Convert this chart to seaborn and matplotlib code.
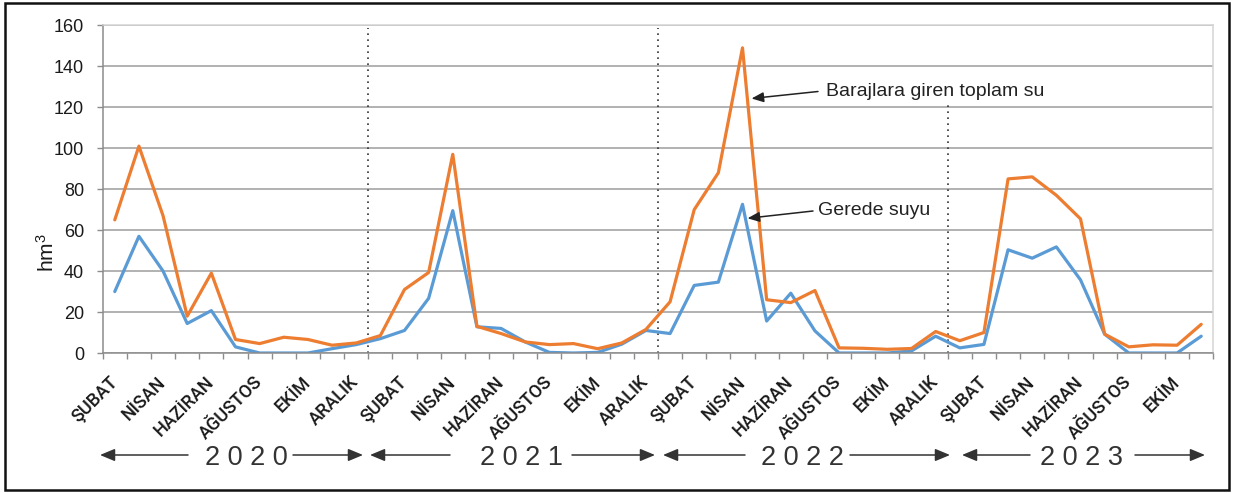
import numpy as np
import pandas as pd
import matplotlib
matplotlib.use("Agg")
import matplotlib.pyplot as plt
import matplotlib.transforms as mtransforms
from matplotlib.patches import Rectangle
import seaborn as sns

# ---------------- data ----------------
month_names = ["OCAK", "ŞUBAT", "MART", "NİSAN", "MAYIS", "HAZİRAN", "TEMMUZ",
               "AĞUSTOS", "EYLÜL", "EKİM", "KASIM", "ARALIK"]
# Feb 2020 ... Nov 2023
categories = month_names[1:] + month_names + month_names + month_names[:11]
years = ["2 0 2 0", "2 0 2 1", "2 0 2 2", "2 0 2 3"]

series_names = ["Gerede suyu", "Barajlara giren toplam su"]

gerede = [30, 57, 40, 14.4, 20.7, 3, 0, 0, 0, 2.1, 4.1,
          7, 11, 26.7, 69.5, 12.8, 12, 5.4, 0.3, 0, 0.3, 4.3, 11,
          9.5, 33, 34.6, 72.6, 15.6, 29.2, 10.8, 0, 0, 0, 1, 8.2,
          2.5, 4.2, 50.4, 46.3, 51.8, 35.7, 9.2, 0, 0, 0, 8.2]

toplam = [65, 101, 67, 18, 39, 6.6, 4.6, 7.7, 6.6, 3.8, 4.9,
          8.5, 31, 39.3, 97, 13, 9.5, 5.4, 4.1, 4.6, 2.1, 4.9, 11.5,
          25, 70, 88, 149, 26, 24.6, 30.5, 2.5, 2.3, 1.8, 2.2, 10.5,
          6, 10, 85, 86, 77, 65.5, 9.2, 3, 4, 3.8, 14]

colors = {"Gerede suyu": "#5B9BD5", "Barajlara giren toplam su": "#ED7D31"}

n = len(categories)
idx = np.arange(1, n + 1)
df = pd.DataFrame({
    "idx": np.concatenate([idx, idx]),
    "value": gerede + toplam,
    "series": [series_names[0]] * n + [series_names[1]] * n,
})

# ---------------- style ----------------
sns.set_theme(style="white")
plt.rcParams["font.family"] = ["Liberation Sans", "DejaVu Sans"]
plt.rcParams["mathtext.default"] = "regular"

W, H = 1233, 493
fig = plt.figure(figsize=(W / 100, H / 100), dpi=100)
fig.patch.set_facecolor("white")

left, right, top, bottom = 102.7, 1213.3, 25.3, 353.0
ax = fig.add_axes([left / W, 1 - bottom / H, (right - left) / W, (bottom - top) / H])

sns.lineplot(data=df, x="idx", y="value", hue="series", hue_order=series_names,
             palette=colors, linewidth=2.3, legend=False, sort=False, ax=ax)
for ln in ax.get_lines():
    ln.set_solid_joinstyle("round")
    ln.set_solid_capstyle("round")

ax.set_xlim(0.5, n + 0.5)
ax.set_ylim(0, 160)
ax.set_xlabel("")
ax.set_ylabel("")

# y axis
ax.set_yticks(range(0, 161, 20))
ax.yaxis.grid(True, color="#9c9c9c", linewidth=1.1)
ax.xaxis.grid(False)
ax.set_axisbelow(True)
ax.tick_params(axis="y", which="major", left=True, length=4.5, width=1,
               color="#8c8c8c", pad=9, labelsize=13, labelcolor="#1a1a1a")

# x axis
ax.set_xticks(idx[::2])
ax.set_xticklabels(categories[::2])
ax.set_xticks(np.arange(0.5, n + 1, 1), minor=True)
ax.tick_params(axis="x", which="major", bottom=True, length=0, pad=19)
ax.tick_params(axis="x", which="minor", bottom=True, length=4, width=1,
               color="#8c8c8c", direction="out")
for lab in ax.get_xticklabels():
    lab.set_fontfamily(["Roboto", "DejaVu Sans"])
    lab.set_fontsize(13)
    lab.set_fontweight("medium")
    lab.set_color("#1a1a1a")
    lab.set_rotation(45)
    lab.set_ha("right")
    lab.set_va("center")
    lab.set_rotation_mode("anchor")

for side in ["left", "bottom"]:
    ax.spines[side].set_color("#8c8c8c")
    ax.spines[side].set_linewidth(1.1)
for side in ["top", "right"]:
    ax.spines[side].set_color("#d4d4d4")
    ax.spines[side].set_linewidth(1.1)

# year separators (dotted)
for b, ytop in [(11.5, 158.5), (23.5, 158.5), (35.5, 122)]:
    ax.vlines(b, 0, ytop, colors="#333333", linewidth=1.2,
              linestyles=(0, (1, 2.6)), zorder=1)

# y label
fig.text(47 / W, 1 - 253 / H, r"hm$^{3}$", rotation=90, ha="center", va="center",
         fontsize=15, color="#1a1a1a")

# annotations
def fpx(x, y):
    return (x, H - y)

ann_style = "-|>,head_length=0.6,head_width=0.25"
ax.annotate("", xy=fpx(751.5, 98.5), xycoords="figure pixels",
            xytext=fpx(818, 91.5), textcoords="figure pixels",
            arrowprops=dict(arrowstyle=ann_style, color="#222222", lw=1.1,
                            mutation_scale=12, shrinkA=0, shrinkB=0))
ax.annotate("", xy=fpx(747.5, 218.3), xycoords="figure pixels",
            xytext=fpx(813, 211), textcoords="figure pixels",
            arrowprops=dict(arrowstyle=ann_style, color="#222222", lw=1.1,
                            mutation_scale=12, shrinkA=0, shrinkB=0))
fig.text(826.5 / W, 1 - 96 / H, series_names[1], ha="left", va="baseline",
         fontsize=14, color="#222222")
fig.text(818 / W, 1 - 215 / H, series_names[0], ha="left", va="baseline",
         fontsize=14, color="#222222")

# year row with arrows
year_centers = [246, 522, 802, 1082]
year_arrows = [((100, 188), (293, 363)),
               ((370, 450), (572, 655)),
               ((663, 745), (850, 950)),
               ((962, 1030), (1135, 1205))]
yr_y = 455
yr_style = "-|>,head_length=0.6,head_width=0.25"
for label, cx, ((lh, lt), (rt, rh)) in zip(years, year_centers, year_arrows):
    fig.text(cx / W, 1 - 465 / H, label, ha="center", va="baseline",
             fontsize=19.5, color="#333333")
    ax.annotate("", xy=fpx(lh, yr_y), xycoords="figure pixels",
                xytext=fpx(lt, yr_y), textcoords="figure pixels",
                arrowprops=dict(arrowstyle=yr_style, color="#333333", lw=1.1,
                                mutation_scale=15, shrinkA=0, shrinkB=0))
    ax.annotate("", xy=fpx(rh, yr_y), xycoords="figure pixels",
                xytext=fpx(rt, yr_y), textcoords="figure pixels",
                arrowprops=dict(arrowstyle=yr_style, color="#333333", lw=1.1,
                                mutation_scale=15, shrinkA=0, shrinkB=0))

# outer frame
fig.add_artist(Rectangle((4.5 / W, 3 / H), (1229 - 4.5) / W, (490 - 3) / H,
                         transform=fig.transFigure, fill=False,
                         edgecolor="#111111", linewidth=1.8))

fig.savefig("out.png", dpi=100, facecolor="white")
